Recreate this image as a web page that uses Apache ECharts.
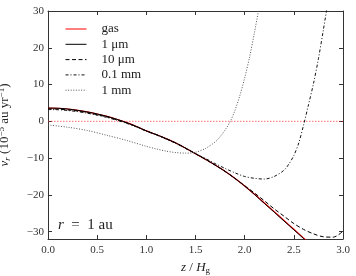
<!DOCTYPE html>
<html>
<head>
<meta charset="utf-8">
<script src="https://cdn.jsdelivr.net/npm/echarts@6/dist/echarts.min.js"></script>
<style>html,body{margin:0;padding:0;background:#fff}#c{width:356px;height:276px}</style>
</head>
<body>
<div id="c"></div>
<script>
// ---- data ----
var seriesNames = ['gas', '1 μm', '10 μm', '0.1 mm', '1 mm'];

var zGas = [0,0.1,0.2,0.3,0.4,0.5,0.6,0.7,0.8,0.9,1.0,1.1,1.2,1.3,1.4,1.5,1.6,1.7,1.8,1.9,2.0,2.1,2.2,2.3,2.4,2.5,2.6,2.65];
var vGas = [3.6,3.55,3.35,3.0,2.55,2.0,1.35,0.55,-0.35,-1.4,-2.6,-3.6,-4.7,-5.9,-7.3,-8.8,-10.3,-11.9,-13.6,-15.5,-17.6,-19.85,-22.2,-24.55,-26.95,-29.35,-31.75,-32.95];

var z1um = [0,0.1,0.2,0.3,0.4,0.5,0.6,0.7,0.8,0.9,1.0,1.1,1.2,1.3,1.4,1.5,1.6,1.7,1.8,1.9,2.0,2.1,2.2,2.3,2.4,2.5,2.6,2.65];
var v1um = [3.6,3.55,3.35,3.0,2.55,2.0,1.35,0.55,-0.35,-1.4,-2.6,-3.6,-4.7,-5.9,-7.3,-8.8,-10.3,-11.9,-13.6,-15.5,-17.6,-19.9,-22.3,-24.7,-27.1,-29.5,-31.9,-33.1];

var z10um = [0,0.1,0.2,0.3,0.4,0.5,0.6,0.7,0.8,0.9,1.0,1.1,1.2,1.3,1.4,1.5,1.6,1.7,1.8,1.9,2.0,2.1,2.2,2.3,2.4,2.5,2.6,2.7,2.8,2.9,3.0];
var v10um = [3.35,3.3,3.1,2.8,2.35,1.8,1.2,0.4,-0.45,-1.45,-2.6,-3.6,-4.7,-5.9,-7.3,-8.8,-10.3,-11.9,-13.6,-15.5,-17.5,-19.5,-21.6,-23.8,-25.8,-27.8,-29.4,-30.6,-31.4,-31.5,-29.9];

var z01mm = [0,0.1,0.2,0.3,0.4,0.5,0.6,0.7,0.8,0.9,1.0,1.1,1.2,1.3,1.4,1.5,1.6,1.7,1.8,1.9,2.0,2.1,2.2,2.3,2.4,2.45,2.5,2.55,2.6,2.65,2.7,2.75,2.8,2.85];
var v01mm = [3.2,3.15,2.95,2.65,2.2,1.65,1.05,0.3,-0.55,-1.55,-2.7,-3.7,-4.8,-6.0,-7.4,-8.8,-10.1,-11.5,-12.8,-14.0,-15.0,-15.5,-15.7,-15.0,-13.3,-11.6,-9.3,-5.9,-0.9,4.6,10.3,17.0,24.8,33.0];

var z1mm = [0,0.2,0.4,0.6,0.8,1.0,1.1,1.2,1.3,1.4,1.5,1.6,1.7,1.75,1.8,1.85,1.9,1.95,2.0,2.05,2.1,2.15];
var v1mm = [-1.0,-1.6,-2.5,-3.8,-5.2,-6.8,-7.5,-8.1,-8.5,-8.65,-8.4,-7.4,-5.6,-4.2,-2.4,-0.2,2.9,6.9,11.8,17.5,24.2,31.5];

var zeroLevel = 0;
var xTicks = [0, 0.5, 1.0, 1.5, 2.0, 2.5, 3.0];
var yTicks = [-30, -20, -10, 0, 10, 20, 30];

// ---- chart ----
function pairs(xs, ys) { return xs.map(function (x, i) { return [x, ys[i]]; }); }
var serif = 'Liberation Serif';
var chart = echarts.init(document.getElementById('c'), null, {renderer: 'canvas'});

var axisLineStyle = {color: '#333', width: 1};
function yLab(v) {
  if (yTicks.indexOf(Math.round(v)) < 0 || Math.abs(v - Math.round(v)) > 1e-6) return '';
  return String(v).replace('-', '\u2212');
}
function xLab(v) {
  for (var i = 0; i < xTicks.length; i++) if (Math.abs(v - xTicks[i]) < 1e-6) return xTicks[i].toFixed(1);
  return '';
}
var zeroData = [[xTicks[0], zeroLevel], [xTicks[xTicks.length - 1], zeroLevel]];

var option = {
  animation: false,
  backgroundColor: '#fff',
  grid: {left: 48, right: 13, top: 11, bottom: 37, containLabel: false, outerBoundsMode: 'none'},
  legend: {
    data: seriesNames,
    orient: 'vertical',
    left: 65, top: 22.5, padding: 0,
    itemWidth: 21, itemHeight: 10, itemGap: 2.3,
    itemStyle: {opacity: 0},
    lineStyle: {width: 1},
    textStyle: {fontFamily: serif, fontSize: 13, color: '#222', padding: [0, 0, 0, 10]}
  },
  xAxis: [{
    type: 'value', min: 0, max: 3, minInterval: 0.5, maxInterval: 0.5,
    position: 'bottom',
    axisLine: {show: true, onZero: false, lineStyle: axisLineStyle},
    axisTick: {show: true, inside: true, length: 4, lineStyle: {color: '#333'}},
    axisLabel: {fontFamily: serif, fontSize: 11, color: '#333', margin: 6, formatter: xLab},
    splitLine: {show: false},
    name: '{i|z} / {i|H}{sub|g}', nameLocation: 'middle', nameGap: 6,
    nameTextStyle: {fontFamily: serif, fontSize: 13, color: '#222',
      rich: {i: {fontFamily: serif, fontStyle: 'italic', fontSize: 13},
             sub: {fontFamily: serif, fontSize: 9, padding: [6, 0, 0, 0]}}}
  }, {
    type: 'value', min: 0, max: 3, minInterval: 0.5, maxInterval: 0.5,
    position: 'top',
    axisLine: {show: true, onZero: false, lineStyle: axisLineStyle},
    axisTick: {show: true, inside: true, length: 4, lineStyle: {color: '#333'}},
    axisLabel: {show: false}, splitLine: {show: false}
  }],
  yAxis: [{
    type: 'value', min: -32, max: 30, minInterval: 10, maxInterval: 10,
    position: 'left',
    axisLine: {show: true, onZero: false, lineStyle: axisLineStyle},
    axisTick: {show: true, inside: true, length: 4, lineStyle: {color: '#333'}},
    axisLabel: {fontFamily: serif, fontSize: 11, color: '#333', margin: 4, formatter: yLab, showMinLabel: false},
    splitLine: {show: false},
    name: '{i|v}{sub|r} (10{sup|\u22125} au yr{sup|\u22121})', nameLocation: 'middle', nameGap: 36, nameRotate: 90,
    nameTextStyle: {fontFamily: serif, fontSize: 13, color: '#222',
      rich: {i: {fontFamily: serif, fontStyle: 'italic', fontSize: 13},
             sub: {fontFamily: serif, fontStyle: 'italic', fontSize: 9, padding: [6, 0, 0, 0]},
             sup: {fontFamily: serif, fontSize: 9, padding: [0, 0, 6, 0]}}}
  }, {
    type: 'value', min: -32, max: 30, minInterval: 10, maxInterval: 10,
    position: 'right',
    axisLine: {show: true, onZero: false, lineStyle: axisLineStyle},
    axisTick: {show: true, inside: true, length: 4, lineStyle: {color: '#333'}},
    axisLabel: {show: false}, splitLine: {show: false}
  }],
  graphic: [{
    type: 'text', left: 58, top: 218,
    style: {
      text: '{i|r}  =  1 au',
      font: '15px "Liberation Serif"', fill: '#222',
      rich: {i: {fontFamily: serif, fontStyle: 'italic', fontSize: 15}}
    }
  }],
  series: [
    {name: 'zero', type: 'line', data: zeroData, symbol: 'none', clip: true, silent: true, z: 1,
      lineStyle: {color: '#ff3030', width: 1, opacity: 0.7, type: [1.5, 1.5]}, itemStyle: {color: '#ff3030'}},
    {name: seriesNames[0], type: 'line', data: pairs(zGas, vGas), symbol: 'none', smooth: 0.3, clip: true,
      lineStyle: {color: '#ff0000', width: 1.2, type: 'solid'}, itemStyle: {color: '#ff0000'}},
    {name: seriesNames[1], type: 'line', data: pairs(z1um, v1um), symbol: 'none', smooth: 0.3, clip: true,
      lineStyle: {color: '#000', width: 1, type: 'solid'}, itemStyle: {color: '#000'}},
    {name: seriesNames[2], type: 'line', data: pairs(z10um, v10um), symbol: 'none', smooth: 0.3, clip: true,
      lineStyle: {color: '#000', width: 1, type: [4, 2.5]}, itemStyle: {color: '#000'}},
    {name: seriesNames[3], type: 'line', data: pairs(z01mm, v01mm), symbol: 'none', smooth: 0.3, clip: true,
      lineStyle: {color: '#111', width: 1, type: [3, 2, 1, 2]}, itemStyle: {color: '#111'}},
    {name: seriesNames[4], type: 'line', data: pairs(z1mm, v1mm), symbol: 'none', smooth: 0.3, clip: true,
      lineStyle: {color: '#555', width: 1, type: [1, 1.6]}, itemStyle: {color: '#555'}}
  ]
};
chart.setOption(option);
</script>
</body>
</html>
